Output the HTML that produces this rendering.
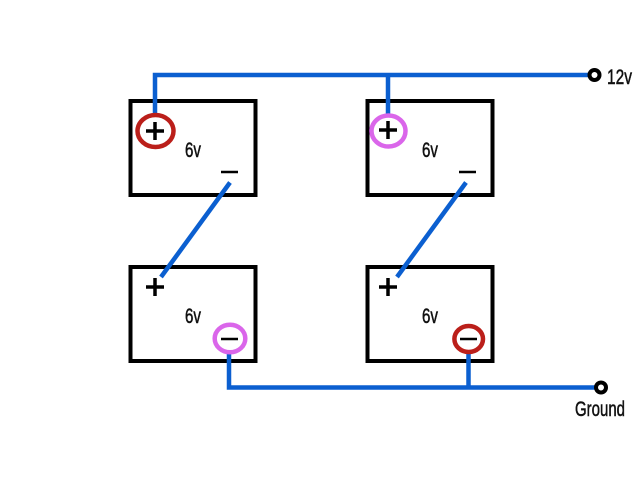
<!DOCTYPE html>
<html>
<head>
<meta charset="utf-8">
<style>
html,body{margin:0;padding:0;background:#fff;width:640px;height:480px;overflow:hidden}
svg{display:block}
text{font-family:"Liberation Sans",sans-serif;fill:#111;stroke:#111;stroke-width:.5}
</style>
</head>
<body>
<svg width="640" height="480" viewBox="0 0 640 480" xmlns="http://www.w3.org/2000/svg">
<g fill="none" stroke="#000" stroke-width="4">
<rect x="130.500" y="101" width="125" height="94"/>
<rect x="367.500" y="101" width="125" height="94"/>
<rect x="130.500" y="267" width="125" height="94"/>
<rect x="367.500" y="267" width="125" height="94"/>
</g>
<g fill="none" stroke="#0b5fd0" stroke-width="4.500">
<path d="M155 114V75H592"/>
<path d="M388 75V114"/>
<path d="M230 182.500L161 277"/>
<path d="M466 182.500L397 277"/>
<path d="M229 352V387.500H598"/>
<path d="M468.500 352V387.500"/>
</g>
<g fill="#fff" stroke-width="4.500">
<ellipse cx="155.500" cy="131" rx="18" ry="16" stroke="#bb1f1a"/>
<ellipse cx="388.500" cy="131" rx="17" ry="15.500" stroke="#da66ea"/>
<ellipse cx="230" cy="338.500" rx="15.300" ry="13.800" stroke="#da66ea"/>
<ellipse cx="468.700" cy="339" rx="14.300" ry="13" stroke="#bb1f1a"/>
</g>
<g fill="none" stroke="#000" stroke-width="3.500">
<path d="M146 131H164M155 122V140"/>
<path d="M379 130H397M388 121V139"/>
<path d="M146 287H164M155 278V296"/>
<path d="M379 287H397M388 278V296"/>
</g>
<g fill="none" stroke="#000" stroke-width="2.500">
<path d="M221 172H238"/>
<path d="M459 172H476"/>
<path d="M221 339H238"/>
<path d="M460 339H477"/>
</g>
<g fill="#fff" stroke="#000" stroke-width="4">
<circle cx="594.500" cy="75" r="5"/>
<circle cx="601" cy="387.500" r="5"/>
</g>
<g font-size="21">
<text x="185" y="157" textLength="16" lengthAdjust="spacingAndGlyphs">6v</text>
<text x="422" y="157" textLength="16" lengthAdjust="spacingAndGlyphs">6v</text>
<text x="185" y="323" textLength="16" lengthAdjust="spacingAndGlyphs">6v</text>
<text x="422" y="323" textLength="16" lengthAdjust="spacingAndGlyphs">6v</text>
<text x="607" y="84" textLength="25" lengthAdjust="spacingAndGlyphs">12v</text>
<text x="575" y="416" textLength="50" lengthAdjust="spacingAndGlyphs">Ground</text>
</g>
</svg>
</body>
</html>
